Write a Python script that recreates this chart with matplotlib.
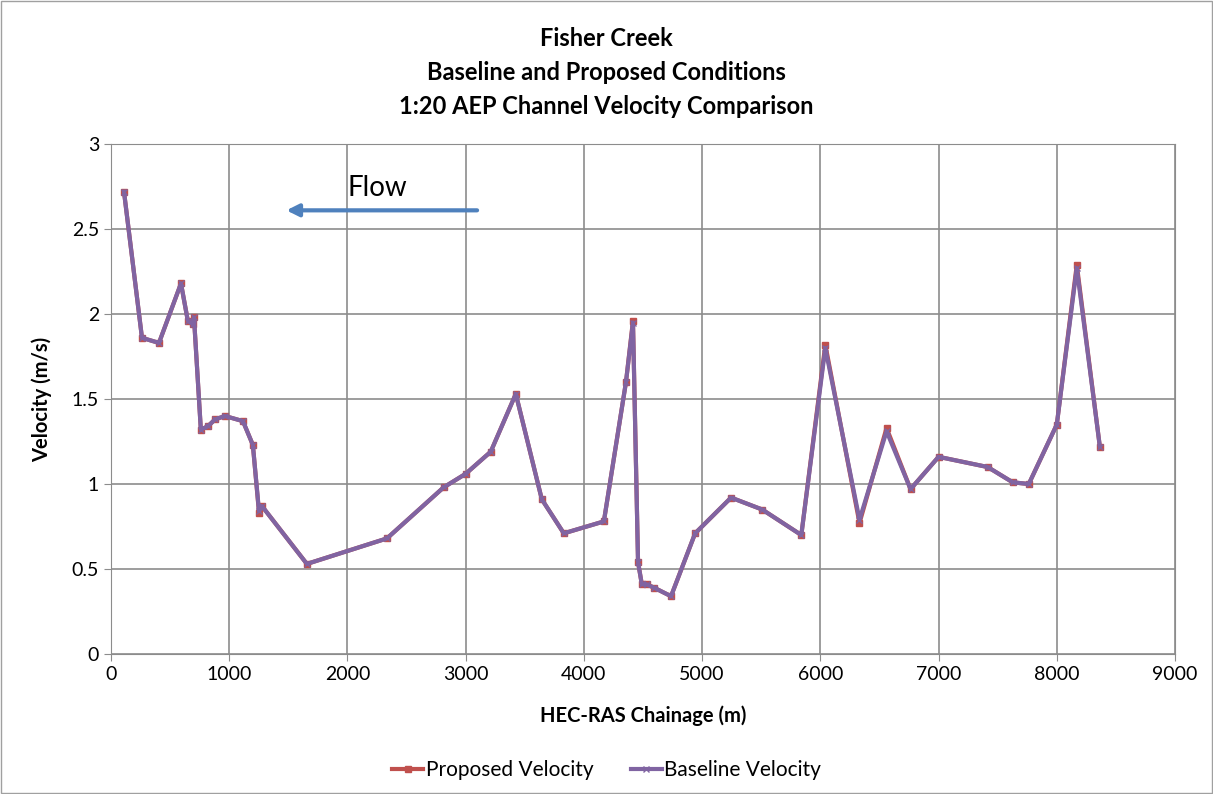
import matplotlib
matplotlib.use('Agg')
import matplotlib.pyplot as plt
from matplotlib.patches import Rectangle

# chainage (m) and channel velocity (m/s)
chainage = [110, 262, 406, 592, 650, 690, 702, 760, 820, 880, 964, 1116, 1200,
            1252, 1277, 1657, 2334, 2813, 3000, 3212, 3424, 3644, 3830, 4169,
            4356, 4415, 4458, 4490, 4530, 4594, 4737, 4941, 5245, 5508, 5839,
            6042, 6331, 6560, 6763, 7000, 7415, 7627, 7763, 8000, 8169, 8364]
proposed = [2.72, 1.86, 1.83, 2.18, 1.96, 1.94, 1.98, 1.32, 1.34, 1.38, 1.40,
            1.37, 1.23, 0.83, 0.87, 0.53, 0.68, 0.98, 1.06, 1.19, 1.53, 0.91,
            0.71, 0.78, 1.60, 1.96, 0.54, 0.41, 0.41, 0.39, 0.34, 0.71, 0.92,
            0.85, 0.70, 1.82, 0.77, 1.33, 0.97, 1.16, 1.10, 1.01, 1.00, 1.35,
            2.29, 1.22]
baseline = [2.72, 1.86, 1.83, 2.18, 1.96, 1.94, 1.98, 1.32, 1.34, 1.38, 1.40,
            1.37, 1.23, 0.84, 0.87, 0.53, 0.68, 0.98, 1.06, 1.19, 1.53, 0.91,
            0.71, 0.78, 1.60, 1.95, 0.54, 0.41, 0.41, 0.39, 0.34, 0.71, 0.92,
            0.85, 0.70, 1.80, 0.79, 1.31, 0.97, 1.16, 1.10, 1.01, 1.00, 1.35,
            2.27, 1.22]

plt.rcParams['font.family'] = ['Lato', 'DejaVu Sans']

fig = plt.figure(figsize=(12.13, 7.94), dpi=100)
ax = fig.add_axes([0.0915, 0.1763, 0.8772, 0.6423])

# chart border like excel
fig.patches.append(Rectangle((0.001, 0.001), 0.998, 0.998, transform=fig.transFigure,
                             fill=False, edgecolor='#a0a0a0', linewidth=1))

ax.plot(chainage, proposed, color='#C0504D', linewidth=3, marker='s', markersize=4,
        label='Proposed Velocity')
ax.plot(chainage, baseline, color='#8064A2', linewidth=3, marker='x', markersize=4,
        markeredgewidth=1, label='Baseline Velocity')

ax.set_xlim(0, 9000)
ax.set_ylim(0, 3)
ax.set_xticks(range(0, 9001, 1000))
ax.set_yticks([0, 0.5, 1, 1.5, 2, 2.5, 3])
ax.set_yticklabels(['0', '0.5', '1', '1.5', '2', '2.5', '3'])
ax.grid(True, color='#8c8c8c', linewidth=1.2)
ax.set_axisbelow(True)
for s in ax.spines.values():
    s.set_color('#8c8c8c')
ax.tick_params(labelsize=14, color='#8c8c8c', length=5)

ax.set_xlabel('HEC-RAS Chainage (m)', fontsize=14.5, fontweight='bold', labelpad=16)
ax.set_ylabel('Velocity (m/s)', fontsize=14.5, fontweight='bold', labelpad=14)

fig.text(0.5, 0.966, 'Fisher Creek\nBaseline and Proposed Conditions\n1:20 AEP Channel Velocity Comparison',
         ha='center', va='top', fontsize=17, fontweight='bold', linespacing=1.58)

# flow direction arrow
ax.annotate('', xy=(1460, 2.61), xytext=(3120, 2.61),
            arrowprops=dict(arrowstyle='-|>', color='#4F81BD', lw=3, mutation_scale=18))
ax.text(2250, 2.74, 'Flow', fontsize=20, ha='center', va='center')

fig.legend(loc='lower center', bbox_to_anchor=(0.5, -0.006), ncol=2, frameon=False,
           fontsize=15, handlelength=1.5, columnspacing=1.8, handletextpad=0.1)

fig.savefig('out.png', dpi=100)
